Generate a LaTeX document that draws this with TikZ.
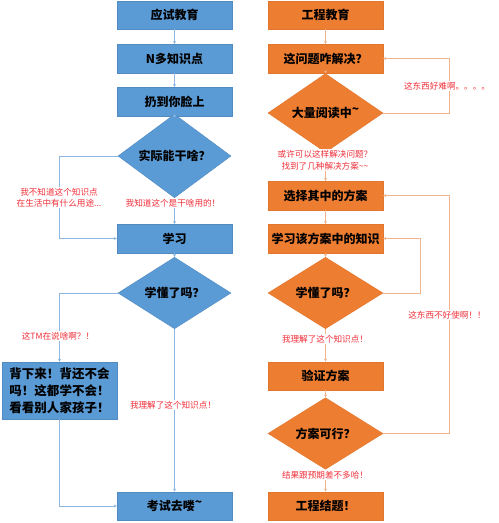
\documentclass[tikz,border=0pt]{standalone}
\usepackage{fontspec}
\newfontfamily\cjk{Noto Sans CJK SC}
\usetikzlibrary{shapes.geometric,arrows.meta}
\definecolor{bfill}{HTML}{5B9BD5}
\definecolor{bline}{HTML}{8DB6E0}
\definecolor{ofill}{HTML}{ED7D31}
\definecolor{oline}{HTML}{F2B48C}
\definecolor{lred}{HTML}{F0303A}
\newcommand{\uptilde}{\raisebox{0.35em}{\textasciitilde}}
\begin{document}
\begin{tikzpicture}[x=1bp,y=-1bp,
  bbox/.style={rectangle,fill=bfill,draw=bfill!90!black,line width=0.4bp,minimum width=115bp,minimum height=28.5bp,inner sep=1bp,font=\cjk\bfseries\fontsize{12bp}{14bp}\selectfont},
  obox/.style={rectangle,fill=ofill,draw=ofill!95!black,line width=0.4bp,minimum width=115bp,minimum height=28.5bp,inner sep=1bp,font=\cjk\bfseries\fontsize{12bp}{14bp}\selectfont},
  bdia/.style={diamond,fill=bfill,draw=bfill!90!black,line width=0.4bp,minimum width=113bp,minimum height=48bp,inner sep=0bp,font=\cjk\bfseries\fontsize{12bp}{14bp}\selectfont},
  odia/.style={diamond,fill=ofill,draw=ofill!95!black,line width=0.4bp,minimum width=115bp,minimum height=49bp,inner sep=0bp,font=\cjk\bfseries\fontsize{12bp}{14bp}\selectfont},
  lbl/.style={fill=white,text=lred,inner sep=1bp,align=center,font=\cjk\fontsize{8.6bp}{11.5bp}\selectfont},
  barr/.style={draw=bline,line width=0.8bp,-{Stealth[length=3bp,width=3bp]}},
  oarr/.style={draw=oline,line width=0.8bp,-{Stealth[length=3bp,width=3bp]}}
]
\useasboundingbox (0,0) rectangle (499,523);
% left column
\node[bbox] (L1) at (174.5,15) {应试教育};
\node[bbox] (L2) at (174.5,58.5) {N多知识点};
\node[bbox] (L3) at (174.5,101.5) {扔到你脸上};
\node[bdia] (LD1) at (174.5,156) {实际能干啥？};
\node[bbox] (L4) at (174.5,238.5) {学习};
\node[bdia] (LD2) at (174.5,293) {学懂了吗？};
\node[bbox,minimum width=115bp,minimum height=57bp,align=left,font=\cjk\bfseries\fontsize{12.5bp}{17bp}\selectfont] (LB) at (59.5,390.5) {背下来！背还不会\\吗！这都学不会！\\看看别人家孩子！};
\node[bbox] (L5) at (174.5,506) {考试去喽\uptilde};
% right column
\node[obox] (R1) at (325.5,15) {工程教育};
\node[obox] (R2) at (325.5,58.5) {这问题咋解决？};
\node[odia] (RD1) at (325.5,113) {大量阅读中\uptilde};
\node[obox] (R3) at (325.5,195.5) {选择其中的方案};
\node[obox] (R4) at (325.5,238.5) {学习该方案中的知识};
\node[odia] (RD2) at (325.5,293) {学懂了吗？};
\node[obox] (R5) at (325.5,376) {验证方案};
\node[odia] (RD3) at (325.5,433.5) {方案可行？};
\node[obox] (R6) at (325.5,506) {工程结题！};
\coordinate (rx) at (449,0);
\coordinate (rx2) at (420,0);
% left connectors
\draw[barr] (L1) -- (L2);
\draw[barr] (L2) -- (L3);
\draw[barr] (L3) -- (LD1);
\draw[barr] (LD1) -- (L4);
\draw[barr] (L4) -- (LD2);
\draw[barr] (LD2) -- (L5);
\draw[barr] (LD1.west) -| (LB.north |- L4.west) -- (L4.west);
\draw[barr] (LD2.west) -| (LB.north);
\draw[barr] (LB.south) |- (L5.west);
% right connectors
\draw[oarr] (R1) -- (R2);
\draw[oarr] (R2) -- (RD1);
\draw[oarr] (RD1) -- (R3);
\draw[oarr] (R3) -- (R4);
\draw[oarr] (R4) -- (RD2);
\draw[oarr] (RD2) -- (R5);
\draw[oarr] (R5) -- (RD3);
\draw[oarr] (RD3) -- (R6);
\draw[oarr] (RD1.east) -- (rx |- RD1.east) |- (R2.east);
\draw[oarr] (RD2.east) -- (rx2 |- RD2.east) |- (R4.east);
\draw[oarr] (RD3.east) -- (rx |- RD3.east) |- (R3.east);
% labels
\node[lbl] (t1) at (59,197.5) {我不知道这个知识点\\在生活中有什么用途...};
\node[lbl] (t2) at (173,203) {我知道这个是干啥用的！};
\node[lbl] (t3) at (58,336) {这TM在说啥啊？！};
\node[lbl] (t4) at (173,405) {我理解了这个知识点！};
\node[lbl] (t5) at (447,86) {这东西好难啊。。。。};
\node[lbl] (t6) at (325,160) {或许可以这样解决问题？\\找到了几种解决方案\textasciitilde\textasciitilde};
\node[lbl] (t7) at (447,315) {这东西不好使啊！！};
\node[lbl] (t8) at (325,339) {我理解了这个知识点！};
\node[lbl] (t9) at (325,475) {结果跟预期差不多哈！};
\end{tikzpicture}
\end{document}
